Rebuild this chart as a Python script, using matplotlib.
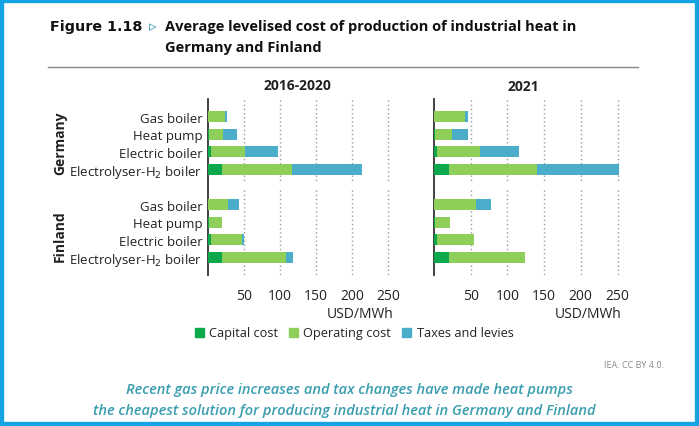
import numpy as np
import matplotlib.pyplot as plt
from matplotlib.patches import Patch, Rectangle
from matplotlib.lines import Line2D

plt.rcParams['font.family'] = ['Open Sans', 'DejaVu Sans']

techs = ['Gas boiler', 'Heat pump', 'Electric boiler', 'Electrolyser-H$_2$ boiler']
countries = ['Germany', 'Finland']
periods = ['2016-2020', '2021']

# values per period: Germany (4 techs) then Finland (4 techs), USD/MWh
capital = {
    '2016-2020': [0, 1, 4, 19, 0, 1, 4, 19],
    '2021': [0, 1, 4, 21, 0, 1, 4, 21],
}
operating = {
    '2016-2020': [24, 20, 47, 98, 28, 19, 43, 89],
    '2021': [42, 24, 59, 120, 57, 21, 51, 103],
}
taxes = {
    '2016-2020': [3, 19, 46, 97, 15, 0, 3, 10],
    '2021': [5, 21, 53, 111, 20, 0, 0, 0],
}

c_cap = '#0ba84c'
c_op = '#8ecf59'
c_tax = '#4aadca'
teal = '#3a9eb0'

W, H = 699, 427
fig = plt.figure(figsize=(W / 100, H / 100), dpi=100)

def fx(px):
    return px / W

def fy(py):
    return 1 - py / H

ypos = [0, 1, 2, 3, 5, 6, 7, 8]
xmax = 265
panels = [(208, 265 * 0.72), (434, 265 * 0.734)]

for i, period in enumerate(periods):
    left, width = panels[i]
    ax = fig.add_axes([fx(left), fy(276), fx(width), (276 - 100) / H])
    cap = np.array(capital[period])
    op = np.array(operating[period])
    tx = np.array(taxes[period])
    ax.barh(ypos, cap, height=0.64, color=c_cap, zorder=3)
    ax.barh(ypos, op, left=cap, height=0.64, color=c_op, zorder=3)
    ax.barh(ypos, tx, left=cap + op, height=0.64, color=c_tax, zorder=3)
    for xv in [50, 100, 150, 200, 250]:
        ax.vlines(xv, -0.95, 3.7, colors='#999999', linestyles=(0, (1, 2)), linewidth=1, zorder=1)
        ax.vlines(xv, 4.15, 9, colors='#999999', linestyles=(0, (1, 2)), linewidth=1, zorder=1)
    ax.set_xlim(0, xmax)
    ax.set_ylim(9, -1)
    ax.set_xticks([50, 100, 150, 200, 250])
    ax.tick_params(axis='x', length=0, pad=9, labelsize=10, colors='#222222')
    if i == 0:
        ax.set_yticks(ypos)
        ax.set_yticklabels(techs * 2, fontsize=9.5, color='#222222')
        ax.tick_params(axis='y', length=0, pad=4)
    else:
        ax.set_yticks([])
    for s in ['top', 'right', 'bottom']:
        ax.spines[s].set_visible(False)
    ax.spines['left'].set_color('#333333')
    ax.spines['left'].set_linewidth(1.3)
    ax.patch.set_alpha(0)

# panel titles
fig.text(fx(297), fy(86), '2016-2020', ha='center', va='center', fontsize=10, fontweight='bold', color='#222222')
fig.text(fx(523), fy(87), '2021', ha='center', va='center', fontsize=10, fontweight='bold', color='#222222')

# unit labels
fig.text(fx(394), fy(314), 'USD/MWh', ha='right', va='center', fontsize=10, color='#222222')
fig.text(fx(622), fy(314), 'USD/MWh', ha='right', va='center', fontsize=10, color='#222222')

# country labels
fig.text(fx(60), fy(143), 'Germany', rotation=90, ha='center', va='center', fontsize=10, fontweight='bold', color='#222222')
fig.text(fx(60), fy(236), 'Finland', rotation=90, ha='center', va='center', fontsize=10, fontweight='bold', color='#222222')

# legend
handles = [Patch(color=c_cap, label='Capital cost'),
           Patch(color=c_op, label='Operating cost'),
           Patch(color=c_tax, label='Taxes and levies')]
fig.legend(handles=handles, loc='center', bbox_to_anchor=(fx(354), fy(334)), ncol=3, frameon=False,
           fontsize=9.2, handlelength=0.7, handleheight=0.7, handletextpad=0.4, columnspacing=0.9,
           labelcolor='#222222')

# header
fig.text(fx(50), fy(27), 'Figure 1.18', ha='left', va='center', fontsize=10.3, fontweight='bold',
         family='DejaVu Sans', color='#111111')
fig.text(fx(149), fy(27), '\u25B9', ha='left', va='center', fontsize=11, color=teal, family='DejaVu Sans')
fig.text(fx(165), fy(27), 'Average levelised cost of production of industrial heat in', ha='left', va='center',
         fontsize=10.5, fontweight='bold', color='#111111')
fig.text(fx(165), fy(48), 'Germany and Finland', ha='left', va='center',
         fontsize=10.5, fontweight='bold', color='#111111')
fig.add_artist(Line2D([fx(48), fx(638)], [fy(68), fy(68)], color='#888888', linewidth=1))

# footer
fig.text(fx(664), fy(366), 'IEA. CC BY 4.0.', ha='right', va='center', fontsize=6.5, color='#888888')
fig.text(fx(349), fy(390), 'Recent gas price increases and tax changes have made heat pumps',
         ha='center', va='center', fontsize=10.5, style='italic', fontweight='semibold', color=teal)
fig.text(fx(344), fy(411), 'the cheapest solution for producing industrial heat in Germany and Finland',
         ha='center', va='center', fontsize=10.5, style='italic', fontweight='semibold', color=teal)

# blue frame
fig.add_artist(Rectangle((0, 0), 1, 1, transform=fig.transFigure, fill=False,
                         edgecolor='#14a3e3', linewidth=6))

fig.savefig('out.png', dpi=100)
